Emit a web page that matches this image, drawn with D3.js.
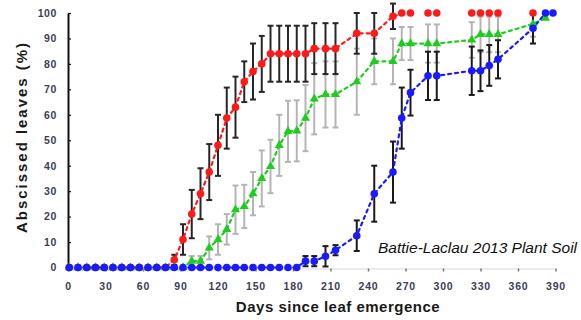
<!DOCTYPE html>
<html>
<head>
<meta charset="utf-8">
<script src="https://cdn.jsdelivr.net/npm/d3@7"></script>
<style>
  body { margin: 0; background: #fff; }
  text { font-family: Arial, "Liberation Sans", sans-serif; }
</style>
</head>
<body>
<svg id="chart" width="581" height="320"></svg>
<script>
// Leaf abscission over time since emergence (% of leaves abscised), three leaf cohorts

const xTicks = [0, 30, 60, 90, 120, 150, 180, 210, 240, 270, 300, 330, 360, 390];
const yTicks = [0, 10, 20, 30, 40, 50, 60, 70, 80, 90, 100];

// red cohort
const redDays = [1, 8, 15, 22, 29, 36, 43, 50, 57, 64, 71, 78,
  85, 92, 99, 106, 113, 120, 127, 134, 141, 148, 155,
  162, 169, 176, 183, 190, 197, 206, 214, 231, 245, 260,
  267, 274, 288, 295, 323, 330, 337, 344, 372];
const redValues = [0, 0, 0, 0, 0, 0, 0, 0, 0, 0, 0, 0,
  3, 11, 21, 29, 37.5, 48, 58.7, 63, 73, 77, 80,
  84, 84, 84, 84, 84, 86, 86, 86, 92, 92, 98.7,
  100, 100, 100, 100, 100, 100, 100, 100, 100];
const redErrors = [0, 0, 0, 0, 0, 0, 0, 0, 0, 0, 0, 0,
  2, 6, 9.5, 10, 11, 12, 12, 12, 8, 11, 11,
  11, 11, 11, 11, 11, 10, 10, 10, 8, 8, 5,
  0, 0, 0, 0, 0, 0, 0, 0, 0];

// green cohort
const greenDays = [1, 8, 15, 22, 29, 36, 43, 50, 57, 64, 71, 78, 85, 92,
  99, 106, 113, 120, 127, 134, 141, 148, 155, 162, 169, 176, 183, 190, 197,
  206, 214, 231, 245, 260, 267, 274, 288, 295, 323, 330, 337, 344, 372, 382];
const greenValues = [0, 0, 0, 0, 0, 0, 0, 0, 0, 0, 0, 0, 0, 0,
  2.5, 2.5, 7.7, 11, 15, 22.7, 24, 29, 35, 39.7, 48, 53.5, 53.7, 58.7, 66.3,
  68, 68, 73, 81, 81, 88, 88, 88, 88, 89.4, 91.6, 91.6, 91.6, 95.7, 98];
const greenErrors = [0, 0, 0, 0, 0, 0, 0, 0, 0, 0, 0, 0, 0, 0,
  2, 2, 4.5, 6, 6, 9.5, 8.5, 8.5, 11, 10.5, 12, 12, 12, 13, 14,
  13, 13, 13, 9, 9, 6.5, 6.5, 7.5, 7.5, 7, 7, 7, 7, 5, 0];

// blue cohort
const blueDays = [1, 8, 15, 22, 29, 36, 43, 50, 57, 64, 71, 78, 85, 92,
  99, 106, 113, 120, 127, 134, 141, 148, 155, 162, 169, 176, 183,
  190, 197, 206, 214, 231, 245, 260, 267, 274, 288, 295, 323, 330, 337, 344, 372, 382, 388];
const blueValues = [0, 0, 0, 0, 0, 0, 0, 0, 0, 0, 0, 0, 0, 0,
  0, 0, 0, 0, 0, 0, 0, 0, 0, 0, 0, 0, 0,
  2.5, 2.5, 4.4, 6.8, 12.5, 29, 37.5, 58.7, 68.7, 75.3, 75.3, 77.3, 77.3, 79.4, 81.8, 94, 100, 100];
const blueErrors = [0, 0, 0, 0, 0, 0, 0, 0, 0, 0, 0, 0, 0, 0,
  0, 0, 0, 0, 0, 0, 0, 0, 0, 0, 0, 0, 0,
  2, 2, 4, 2, 6, 11, 12, 12, 9, 9.5, 9.5, 9.5, 8, 8, 7.5, 6, 0, 0];

const zip = (days, vals, errs) => days.map((d, i) => ({ day: d, value: vals[i], err: errs[i] }));

const green = { name: "green", data: zip(greenDays, greenValues, greenErrors), color: "#1fcc1f", bar: "#b4b4b4", shape: "triangle" };
const red   = { name: "red",   data: zip(redDays, redValues, redErrors),       color: "#ff1a1a", bar: "#262626", shape: "circle" };
const blue  = { name: "blue",  data: zip(blueDays, blueValues, blueErrors),    color: "#1a1aff", bar: "#1a1a1a", shape: "circle" };

const svg = d3.select("#chart");
const x = d3.scaleLinear().domain([0, 390]).range([68, 555.5]);
const y = d3.scaleLinear().domain([0, 100]).range([267.5, 13]);

// plot area clip for connecting lines (the top border hides lines running along 100 %)
svg.append("defs").append("clipPath").attr("id", "plot-clip")
  .append("rect")
  .attr("x", x(0)).attr("y", y(100) + 1.6)
  .attr("width", x(390) - x(0) + 10).attr("height", y(0) - y(100) + 8);

// x axis: faint baseline with small ticks
const xAxis = svg.append("g")
  .attr("transform", `translate(0,${y(0) + 1})`)
  .call(d3.axisBottom(x).tickValues(xTicks).tickSizeInner(3).tickSizeOuter(0).tickPadding(11));
xAxis.select(".domain").attr("stroke", "#d8d8d8").attr("stroke-width", 1);
xAxis.selectAll(".tick line").attr("stroke", "#777").attr("stroke-width", 1.5);
xAxis.selectAll(".tick text").attr("font-size", 10.5).attr("fill", "#3d3d55")
  .attr("letter-spacing", 0.8).attr("font-weight", "bold");

// y axis: heavy black line, ticks pointing inward
const yAxis = svg.append("g")
  .attr("transform", `translate(${x(0)},0)`)
  .call(d3.axisLeft(y).tickValues(yTicks).tickSizeInner(-3).tickSizeOuter(0).tickPadding(11));
yAxis.select(".domain").attr("stroke", "#111").attr("stroke-width", 2);
yAxis.selectAll(".tick line").attr("stroke", "#111").attr("stroke-width", 1.2);
yAxis.selectAll(".tick text").attr("font-size", 10.5).attr("fill", "#3d3d55")
  .attr("letter-spacing", 0.6).attr("font-weight", "bold");

// error bars (drawn beneath lines and markers)
const capW = 3;
[green, red, blue].forEach(s => {
  const g = svg.append("g").attr("class", "err-" + s.name)
    .attr("stroke", s.bar).attr("stroke-width", 2).attr("fill", "none");
  const withErr = s.data.filter(d => d.err > 0);
  g.selectAll("line.v").data(withErr).join("line").attr("class", "v")
    .attr("x1", d => x(d.day)).attr("x2", d => x(d.day))
    .attr("y1", d => y(d.value + d.err)).attr("y2", d => y(d.value - d.err));
  g.selectAll("line.t").data(withErr).join("line").attr("class", "t")
    .attr("x1", d => x(d.day) - capW).attr("x2", d => x(d.day) + capW)
    .attr("y1", d => y(d.value + d.err)).attr("y2", d => y(d.value + d.err));
  g.selectAll("line.b").data(withErr).join("line").attr("class", "b")
    .attr("x1", d => x(d.day) - capW).attr("x2", d => x(d.day) + capW)
    .attr("y1", d => y(d.value - d.err)).attr("y2", d => y(d.value - d.err));
});

// dashed connecting lines (red under green under blue along the shared baseline)
const line = d3.line().x(d => x(d.day)).y(d => y(d.value));
[red, green, blue].forEach(s => {
  svg.append("path").datum(s.data)
    .attr("clip-path", "url(#plot-clip)")
    .attr("d", line).attr("fill", "none")
    .attr("stroke", s.color).attr("stroke-width", 2.2)
    .attr("stroke-dasharray", "3,4").attr("stroke-linecap", "round");
});

// markers
const markerR = 3.8;
const tri = d3.symbol().type(d3.symbolTriangle).size(36);
[red, green, blue].forEach(s => {
  const g = svg.append("g").attr("fill", s.color);
  if (s.shape === "triangle") {
    g.selectAll("path").data(s.data).join("path")
      .attr("d", tri).attr("transform", d => `translate(${x(d.day)},${y(d.value)})`);
  } else {
    g.selectAll("circle").data(s.data).join("circle")
      .attr("cx", d => x(d.day)).attr("cy", d => y(d.value)).attr("r", markerR);
  }
});

// axis titles
svg.append("text")
  .attr("x", 338).attr("y", 312)
  .attr("text-anchor", "middle").attr("font-size", 15).attr("font-weight", "bold")
  .attr("fill", "#1a1a1a").attr("letter-spacing", 0.5)
  .text("Days since leaf emergence");

svg.append("text")
  .attr("transform", "translate(27,138) rotate(-90)")
  .attr("text-anchor", "middle").attr("font-size", 15).attr("font-weight", "bold")
  .attr("fill", "#1a1a1a")
  .attr("textLength", 190).attr("lengthAdjust", "spacing")
  .text("Abscissed leaves (%)");

// source note
svg.append("text")
  .attr("x", 378).attr("y", 253)
  .attr("font-size", 15.5).attr("font-style", "italic").attr("fill", "#111")
  .text("Battie-Laclau 2013 Plant Soil");
</script>
</body>
</html>
